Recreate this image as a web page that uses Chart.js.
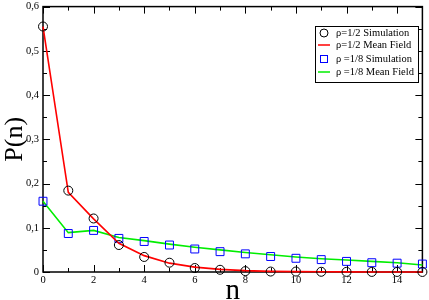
<!DOCTYPE html>
<html><head><meta charset="utf-8">
<script src="https://cdn.jsdelivr.net/npm/chart.js@4/dist/chart.umd.min.js"></script>
<style>html,body{margin:0;padding:0;background:#fff}#wrap{width:429px;height:300px}</style>
</head><body><div id="wrap"><canvas id="c"></canvas></div>
<script>
const nValues = [0,1,2,3,4,5,6,7,8,9,10,11,12,13,14,15];
const simHalf = [0.555,0.184,0.121,0.061,0.034,0.021,0.009,0.005,0.002,0.001,0.001,0.0005,0.0003,0.0002,0.0001,0.0001];
const mfHalf  = [0.555,0.180,0.120,0.065,0.037,0.020,0.011,0.006,0.003,0.0015,0.0008,0.0004,0.0002,0.0001,0.0001,0.0];
const simEighth = [0.160,0.087,0.094,0.076,0.069,0.061,0.052,0.046,0.041,0.035,0.031,0.028,0.024,0.021,0.020,0.018];
const mfEighth  = [0.160,0.089,0.094,0.078,0.071,0.063,0.056,0.050,0.044,0.039,0.034,0.030,0.027,0.024,0.021,0.016];
const yTicks = [0,0.1,0.2,0.3,0.4,0.5,0.6];
const xTicks = [0,2,4,6,8,10,12,14];
const labels = ['ρ=1/2 Simulation','ρ=1/2 Mean Field','ρ =1/8 Simulation','ρ =1/8 Mean Field'];

const pts = arr => nValues.map((n,i)=>({x:n,y:arr[i]}));
const serif = '"Liberation Serif","DejaVu Serif",serif';

const tickPlugin = {
  id:'inTicks',
  beforeDatasetsDraw(chart){
    const {ctx, chartArea:a, scales:{x,y}} = chart;
    ctx.save();
    ctx.strokeStyle='#000'; ctx.lineWidth=1;
    ctx.beginPath();
    for(let v=0; v<=15; v++){
      const px=Math.round(x.getPixelForValue(v))+0.5;
      const L = v%2===0?7:4;
      ctx.moveTo(px,a.bottom); ctx.lineTo(px,a.bottom-L);
      ctx.moveTo(px,a.top); ctx.lineTo(px,a.top+L);
    }
    for(let k=0;k<=12;k++){
      const v=k*0.05;
      const py=Math.round(y.getPixelForValue(v))+0.5;
      const L = k%2===0?7:4;
      ctx.moveTo(a.left,py); ctx.lineTo(a.left+L,py);
      ctx.moveTo(a.right,py); ctx.lineTo(a.right-L,py);
    }
    ctx.stroke();
    ctx.lineWidth=1.5;
    ctx.strokeRect(a.left,a.top,a.right-a.left,a.bottom-a.top);
    ctx.restore();
  },
  afterDatasetsDraw(chart){
    const {ctx} = chart;
    ctx.save();
    const bx=315, by=26, bw=103, bh=56;
    ctx.fillStyle='#fff'; ctx.fillRect(bx,by,bw,bh);
    ctx.lineWidth=1; ctx.strokeStyle='#000';
    ctx.strokeRect(bx+0.5,by+0.5,bw,bh);
    const rows=[33,45,59,72];
    ctx.font='10.5px '+serif; ctx.textBaseline='middle'; ctx.textAlign='left';
    const ds=chart.data.datasets;
    rows.forEach((ry,i)=>{
      const d=ds[i];
      ctx.strokeStyle=d.borderColor;
      if(i===0){ ctx.lineWidth=1; ctx.beginPath(); ctx.arc(324,ry,4,0,Math.PI*2); ctx.stroke(); }
      else if(i===2){ ctx.lineWidth=1; ctx.strokeRect(320.5,ry-3.5,7,7); }
      else { ctx.lineWidth=1.5; ctx.beginPath(); ctx.moveTo(318,ry); ctx.lineTo(330,ry); ctx.stroke(); }
      ctx.fillStyle='#000'; ctx.fillText(d.label,336,ry+0.5);
    });
    ctx.restore();
  }
};

new Chart(document.getElementById('c'),{
  type:'line',
  data:{datasets:[
    {label:labels[0],data:pts(simHalf),showLine:false,borderColor:'#000',backgroundColor:'rgba(0,0,0,0)',pointStyle:'circle',pointRadius:4.5,pointBorderWidth:1,order:1,clip:false},
    {label:labels[1],data:pts(mfHalf),borderColor:'#ff0000',borderWidth:1.6,pointRadius:0,tension:0,order:2,clip:false},
    {label:labels[2],data:pts(simEighth),showLine:false,borderColor:'#0000ff',backgroundColor:'rgba(0,0,0,0)',pointStyle:'rect',pointRadius:5.6,pointBorderWidth:1,order:3,clip:false},
    {label:labels[3],data:pts(mfEighth),borderColor:'#00ee00',borderWidth:1.6,pointRadius:0,tension:0,order:4,clip:false}
  ]},
  options:{
    responsive:true,maintainAspectRatio:false,animation:false,
    layout:{padding:{top:0,right:6,left:0,bottom:0}},
    plugins:{legend:{display:false},tooltip:{enabled:false}},
    scales:{
      x:{type:'linear',min:0,max:15,
        afterBuildTicks:s=>{s.ticks=xTicks.map(v=>({value:v}));},
        afterFit:s=>{s.height=28;},
        grid:{display:false,drawTicks:false},border:{display:false},
        ticks:{padding:2,color:'#000',font:{family:serif,size:10.5},maxRotation:0},
        title:{display:true,text:'n',color:'#000',font:{family:serif,size:29,lineHeight:1},padding:{top:0,bottom:-6}}},
      y:{type:'linear',min:0,max:0.6,
        afterBuildTicks:s=>{s.ticks=yTicks.map(v=>({value:v}));},
        afterFit:s=>{s.width=43;s.paddingTop=5;s.paddingBottom=0;},
        grid:{display:false,drawTicks:false},border:{display:false},
        ticks:{padding:4,color:'#000',font:{family:serif,size:10.5},callback:v=>v===0?'0':v.toFixed(1).replace('.',',')},
        title:{display:true,text:'P(n)',color:'#000',font:{family:serif,size:26},padding:{top:0,bottom:0}}}
    }
  },
  plugins:[tickPlugin]
});
</script></body></html>
